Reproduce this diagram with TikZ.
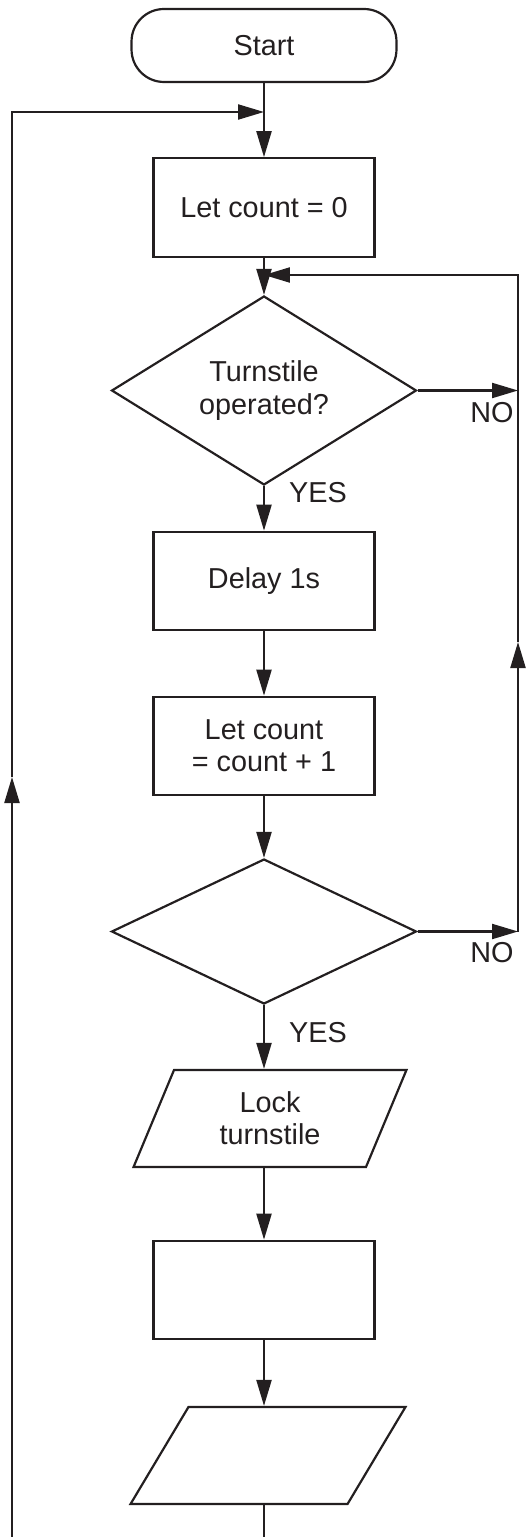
\documentclass[tikz,border=0pt]{standalone}
\usepackage{fontspec}
\setmainfont{Liberation Sans}
\usetikzlibrary{arrows.meta,shapes.geometric}
\definecolor{ink}{HTML}{231F20}
\begin{document}
\begin{tikzpicture}[x=0.02cm,y=-0.02cm,>={Triangle[length=0.52cm,width=0.3cm]},color=ink,line width=1.25pt,font=\fontsize{16.4}{18.4}\selectfont,
		term/.style={draw,rectangle,rounded corners=0.65cm,minimum width=5.3cm,minimum height=1.46cm},
		proc/.style={draw,rectangle,minimum width=4.42cm,minimum height=1.97cm,align=center},
		decide/.style={draw,diamond,minimum width=6.1cm,minimum height=2.9cm,inner sep=0pt,align=center},
		io/.style={draw,trapezium,trapezium left angle=70,trapezium right angle=110,trapezium stretches=true,minimum width=5.5cm,minimum height=1.94cm,align=center}]
		\useasboundingbox (0,0) rectangle (527,1537);
		\node[term] (start) at (264,45.5) {Start};
		\node[proc] (init) at (264,207.5) {Let count = 0};
		\node[decide] (turn) at (264,390.5) {Turnstile\\operated?};
		\node[proc] (delay) at (264,581) {Delay 1s};
		\node[proc] (incr) at (264,746) {Let count\\= count + 1};
		\node[decide] (limit) at (264,931.5) {};
		\node[io] (lock) at (270,1118.5) {Lock\\turnstile};
		\node[proc] (blank) at (264,1290) {};
		\node[io] (out) at (268,1455.5) {};
		\node (yes1) at (318,493) {YES};
		\node (no1) at (492,413) {NO};
		\node (yes2) at (318,1033) {YES};
		\node (no2) at (492,953) {NO};
		\coordinate (j1) at (264,112);
		\coordinate (j2) at (264,275);
		\coordinate (nw) at (12,112);
		\coordinate (ne) at (518,275);
		\coordinate (upR) at (518,642);
		\coordinate (upL) at (12,777);
		\coordinate (endL) at (12,1537);
		\coordinate (endR) at (264,1537);
		\draw[->] (start) -- (init);
		\draw[->] (init) -- (turn);
		\draw[->] (turn) -- (delay);
		\draw[->] (delay) -- (incr);
		\draw[->] (incr) -- (limit);
		\draw[->] (limit.south) -- (limit.south |- lock.north);
		\draw[->] (lock.south -| blank) -- (blank);
		\draw[->] (blank) -- (blank.south |- out.north);
		\draw (out.south -| endR) -- (endR);
		\draw[->] (turn.east) -- (turn.east -| ne);
		\draw[->] (limit.east) -- (limit.east -| ne);
		\draw[->] (limit.east -| ne) -- (upR);
		\draw[->] (upR) -- (ne) -- (j2);
		\draw[->] (endL) -- (upL);
		\draw[->] (upL) -- (nw) -- (j1);
\end{tikzpicture}
\end{document}
